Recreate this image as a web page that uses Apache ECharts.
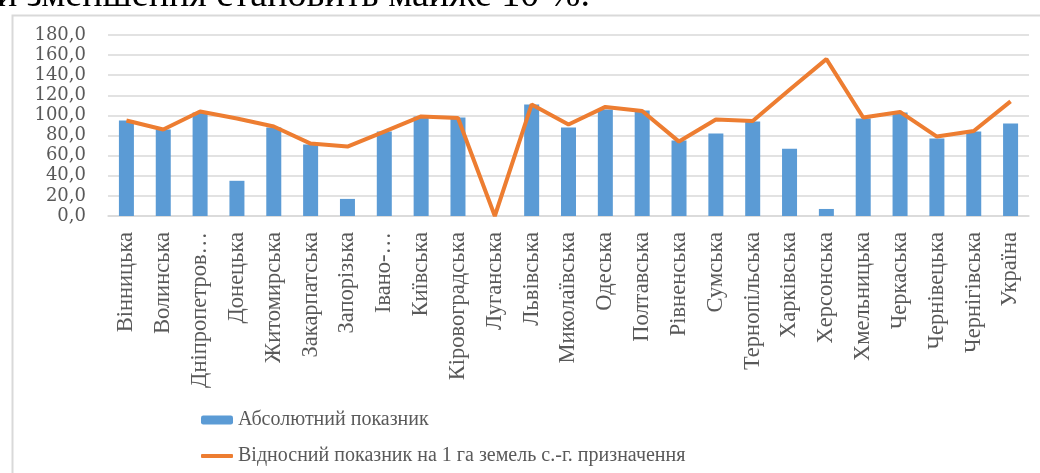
<!DOCTYPE html>
<html>
<head>
<meta charset="utf-8">
<script src="https://cdn.jsdelivr.net/npm/echarts@6/dist/echarts.min.js"></script>
<style>
    html, body { margin: 0; padding: 0; background: #fff; }
    #chart { width: 1040px; height: 473px; }
</style>
</head>
<body>
<div id="chart"></div>
<script>
var regions = ["Вінницька", "Волинська", "Дніпропетров…", "Донецька", "Житомирська", "Закарпатська",
    "Запорізька", "Івано-…", "Київська", "Кіровоградська", "Луганська", "Львівська", "Миколаївська",
    "Одеська", "Полтавська", "Рівненська", "Сумська", "Тернопільська", "Харківська", "Херсонська",
    "Хмельницька", "Черкаська", "Чернівецька", "Чернігівська", "Україна"];

var absValues = [95, 86, 103, 35, 88, 71, 17, 84, 99, 98, 0, 111, 88, 106, 105, 75, 82, 94, 67, 7, 97, 103, 77, 84, 92];

var relValues = [95, 86, 104, 97, 89, 72, 69, 84, 99, 97.5, 0, 111, 91, 108.5, 104.5, 74, 96, 94.5, 125.5, 156, 98, 103.5, 79, 84.5, 114];

var yTicks = { min: 0, max: 180, step: 20 };

var absName = "Абсолютний показник";
var relName = "Відносний показник на 1 га земель с.-г. призначення";
var headText = "и зменшення становить майже 10 %.";

var serif = "'Liberation Serif', 'DejaVu Serif', serif";
var gray = "#595959";

function init() {
    var chart = echarts.init(document.getElementById("chart"));
    chart.setOption(buildOption());
}

function legendBox(name, top, h, color) {
    return {
        orient: "vertical",
        left: 196,
        top: top,
        itemWidth: 32,
        itemHeight: h,
        textStyle: { fontFamily: serif, fontSize: 20, color: gray },
        data: [{ name: name, icon: "roundRect", itemStyle: { color: color } }]
    };
}

function buildOption() {
    return {
        animation: false,
        graphic: [
            {
                type: "rect",
                left: 10, top: 13,
                shape: { width: 1040, height: 470 },
                style: { fill: "none", stroke: "#D9D9D9", lineWidth: 2 },
                silent: true
            },
            {
                type: "text",
                left: -3, top: -23,
                style: { text: headText, font: "38px " + serif, fill: "#000" }
            }
        ],
        grid: { left: 108, right: 11, top: 35, bottom: 257 },
        legend: [
            legendBox(absName, 405, 9, "#5B9BD5"),
            legendBox(relName, 441, 4, "#ED7D31")
        ],
        xAxis: {
            type: "category",
            data: regions,
            axisLine: { lineStyle: { color: "#D9D9D9", width: 1.5 } },
            axisTick: { show: false },
            axisLabel: {
                interval: 0,
                rotate: 90,
                margin: 16,
                fontFamily: serif,
                fontSize: 22.5,
                color: gray
            }
        },
        yAxis: {
            type: "value",
            min: yTicks.min,
            max: yTicks.max,
            interval: yTicks.step,
            axisLine: { show: false },
            axisTick: { show: false },
            axisLabel: {
                margin: 22,
                fontFamily: "'DejaVu Serif', serif",
                fontSize: 18,
                color: gray,
                showMinLabel: true,
                showMaxLabel: true,
                formatter: function (v) {
                    return v.toFixed(1).replace(".", ",");
                }
            },
            splitLine: { lineStyle: { color: "#D9D9D9", width: 1.5 } }
        },
        series: [
            {
                name: absName,
                type: "bar",
                data: absValues,
                barWidth: 15,
                itemStyle: { color: "#5B9BD5" }
            },
            {
                name: relName,
                type: "line",
                data: relValues,
                symbol: "none",
                lineStyle: { color: "#ED7D31", width: 4 },
                itemStyle: { color: "#ED7D31" }
            }
        ]
    };
}

init();
</script>
</body>
</html>
